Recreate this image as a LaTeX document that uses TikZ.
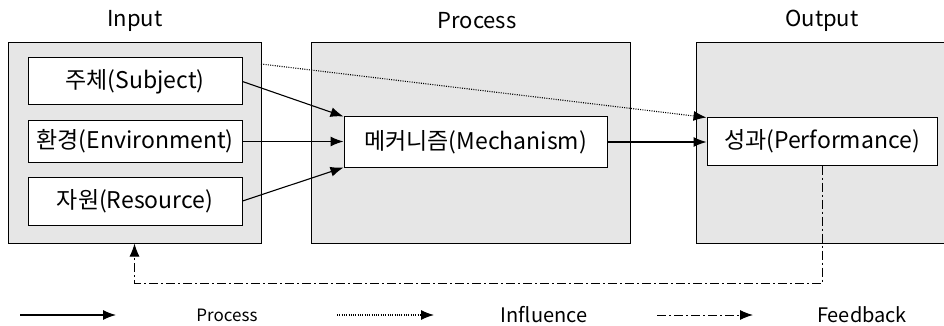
\documentclass[tikz,border=0pt]{standalone}
\usepackage{fontspec}
\setmainfont{Noto Sans CJK KR}
\usetikzlibrary{arrows.meta}
\definecolor{panelgray}{HTML}{E6E6E6}
\tikzset{
  x=1pt, y=-1pt,
  panel/.style={draw=black, line width=1pt, fill=panelgray, inner sep=0pt},
  item/.style={draw=black, line width=1pt, fill=white, inner sep=0pt, font=\fontsize{23}{26}\selectfont},
  heading/.style={font=\fontsize{22}{25}\selectfont, inner sep=0pt},
  legendtext/.style={font=\fontsize{20}{23}\selectfont, inner sep=0pt},
  tip/.style={-{Latex[length=13pt,width=10pt]}},
  flow/.style={tip, line width=1.1pt},
  influence/.style={tip, line width=1.1pt, dash pattern=on 1pt off 1.3pt},
  feedback/.style={tip, line width=1pt, dash pattern=on 9pt off 3pt on 2pt off 3pt},
}
\begin{document}
\begin{tikzpicture}
\useasboundingbox (0,0) rectangle (944,326);

% three stage panels
\node[panel, minimum width=253pt, minimum height=200pt] (inbox)  at (134.5,143) {};
\node[panel, minimum width=319pt, minimum height=200pt] (procbox) at (470.5,143) {};
\node[panel, minimum width=260pt, minimum height=200pt] (outbox) at (826,143) {};

% stage headings
\node[heading] (hin)   at (135,21)  {Input};
\node[heading] (hproc) at (477,21)  {Process};
\node[heading] (hout)  at (822,21)  {Output};

% input items
\node[item, minimum width=214pt, minimum height=47pt] (subj) at (135,81.5)  {주체(Subject)};
\node[item, minimum width=214pt, minimum height=41pt] (env)  at (135,141.5) {환경(Environment)};
\node[item, minimum width=214pt, minimum height=48pt] (res)  at (135,201)   {자원(Resource)};

% process and output items
\node[item, minimum width=263pt, minimum height=50pt] (mech) at (475.5,142) {메커니즘(Mechanism)};
\node[item, minimum width=230pt, minimum height=47pt] (perf) at (822,141.5) {성과(Performance)};

% process flows
\draw[flow] (subj.east) -- (mech.north west);
\draw[flow] (env.east) -- (env.east -| mech.west);
\draw[flow] (res.east) -- (mech.south west);
\draw[flow] (mech.east) -- (mech.east -| perf.west);

% influence of the subject on performance
\coordinate (inflstart) at (261,64);
\draw[influence] (inflstart) -- (perf.north west);

% feedback loop back to the inputs
\coordinate (fbcorner) at (134.5,283);
\draw[feedback] (perf.south) |- (fbcorner) -- (inbox.south);

% legend
\coordinate (l1a) at (20,315);  \coordinate (l1b) at (116,315);
\coordinate (l2a) at (337,315); \coordinate (l2b) at (434,315);
\coordinate (l3a) at (657,315); \coordinate (l3b) at (753,315);
\draw[flow] (l1a) -- (l1b);
\draw[influence] (l2a) -- (l2b);
\draw[feedback] (l3a) -- (l3b);
\node[legendtext, font=\fontsize{17}{20}\selectfont] (lg1) at (227,315) {Process};
\node[legendtext] (lg2) at (544,315) {Influence};
\node[legendtext] (lg3) at (862,315) {Feedback};
\end{tikzpicture}
\end{document}
